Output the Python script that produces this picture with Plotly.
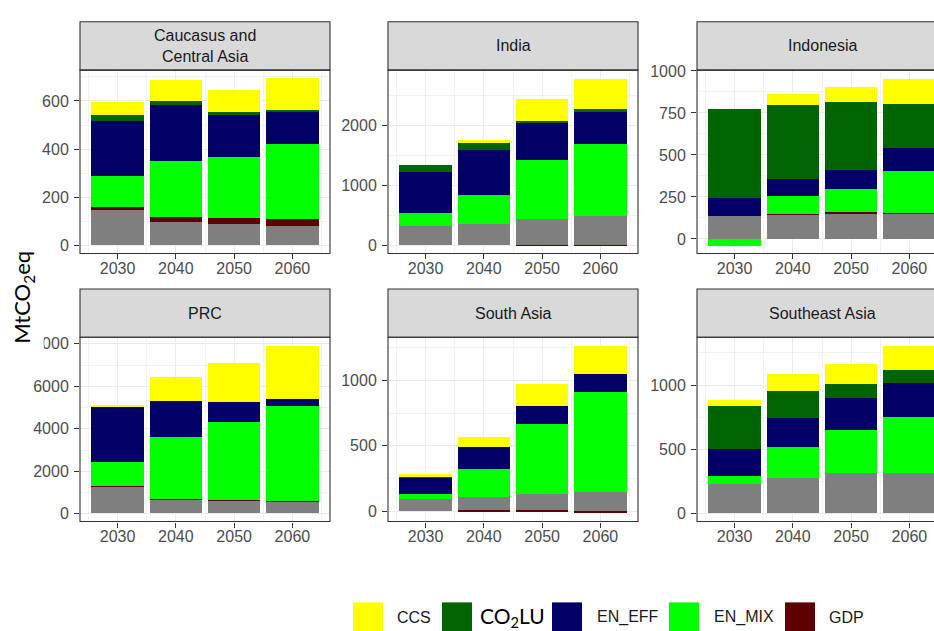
import plotly.graph_objects as go

# ---------------- data ----------------
years = [2030, 2040, 2050, 2060]
regions = ["Caucasus and<br>Central Asia", "India", "Indonesia",
           "PRC", "South Asia", "Southeast Asia"]

# values per region (rows) x year (cols), MtCO2eq
POP = [[146, 97, 89, 80],
       [324, 357, 445, 489],
       [139, 143, 150, 150],
       [1250, 670, 625, 580],
       [90, 105, 126, 148],
       [225, 274, 317, 317]]
GDP = [[14, 20, 24, 28],
       [0, 0, -8, -4],
       [0, 3, 8, 7],
       [25, 25, 25, 25],
       [0, -5, -7, -18],
       [0, 0, 0, 0]]
EN_MIX = [[126, 235, 255, 313],
          [220, 478, 973, 1198],
          [-41, 108, 141, 249],
          [1168, 2923, 3664, 4451],
          [38, 214, 540, 759],
          [64, 245, 335, 432]]
EN_EFF = [[232, 230, 175, 135],
          [676, 758, 637, 533],
          [107, 103, 113, 137],
          [2583, 1686, 928, 341],
          [126, 173, 135, 138],
          [210, 220, 248, 269]]
CO2LU = [[22, 19, 11, 7],
         [121, 110, 22, 55],
         [527, 440, 404, 260],
         [0, 0, 0, 0],
         [5, 0, 0, 0],
         [340, 215, 105, 97]]
CCS = [[55, 84, 91, 130],
       [0, 50, 363, 511],
       [0, 66, 86, 150],
       [46, 1113, 1840, 2489],
       [22, 73, 169, 214],
       [41, 128, 159, 184]]

series_names = ["POP", "GDP", "EN_MIX", "EN_EFF", "CO2LU", "CCS"]
series_values = [POP, GDP, EN_MIX, EN_EFF, CO2LU, CCS]
series_colors = ["#7F7F7F", "#5E0000", "#00FF00", "#000066", "#006400", "#FFFF00"]

legend_labels = ["CCS", "CO<sub>2</sub>LU", "EN_EFF", "EN_MIX", "GDP"]
legend_colors = ["#FFFF00", "#006400", "#000066", "#00FF00", "#5E0000"]

y_ranges = [[-33, 728], [-137, 2929], [-86, 1005], [-370, 8310], [-80, 1330], [-62, 1372]]
y_dticks = [200, 1000, 250, 2000, 500, 500]

# ---------------- layout geometry (pixels) ----------------
W, H = 934, 631
col_px = [(80, 330), (388, 638), (697, 947)]
row_plot_px = [(63, 249), (334, 521)]
row_strip_px = [(14, 63), (285, 334)]

def px_x(x):
    return x / W

def px_y(y):
    return 1 - y / H

FONT = "Liberation Sans, Arial, sans-serif"
fig = go.Figure()

layout = dict(
    width=W, height=H, margin=dict(l=0, r=0, t=0, b=0),
    paper_bgcolor="white", plot_bgcolor="white",
    barmode="relative", showlegend=False, bargap=0,
)

shapes = []
annotations = []
for i, reg in enumerate(regions):
    r, c = divmod(i, 3)
    ax = "" if i == 0 else str(i + 1)
    x0p, x1p = col_px[c]
    vis_x1 = min(x1p, W)
    px_per_year = (x1p - x0p) / (2066.45 - 2023.55)
    xr = [2023.55, 2023.55 + (vis_x1 - x0p) / px_per_year]
    yt, yb = row_plot_px[r]
    layout["xaxis" + ax] = dict(
        domain=[px_x(x0p), px_x(vis_x1)], anchor="y" + ax, range=xr,
        tickvals=years, ticktext=[str(y) for y in years],
        ticks="outside", ticklen=5, tickcolor="#333333", tickwidth=1,
        tickfont=dict(family=FONT, size=16, color="#4D4D4D"),
        ticklabelstandoff=-5,
        showgrid=True, gridcolor="#EBEBEB", gridwidth=1.1,
        minor=dict(tick0=2025, dtick=10, showgrid=True, gridcolor="#F2F2F2",
                   gridwidth=0.6, ticks=""),
        zeroline=False, showline=False, fixedrange=True,
    )
    layout["yaxis" + ax] = dict(
        domain=[px_y(yb), px_y(yt)], anchor="x" + ax, range=y_ranges[i],
        tick0=0, dtick=y_dticks[i],
        ticks="outside", ticklen=5, tickcolor="#333333", tickwidth=1,
        tickfont=dict(family=FONT, size=16, color="#4D4D4D"),
        ticklabelstandoff=2,
        showgrid=True, gridcolor="#EBEBEB", gridwidth=1.1,
        minor=dict(tick0=0, dtick=y_dticks[i] / 2, showgrid=True,
                   gridcolor="#F2F2F2", gridwidth=0.6, ticks=""),
        zeroline=False, showline=False, fixedrange=True,
    )
    for name, vals, col in zip(series_names, series_values, series_colors):
        fig.add_trace(go.Bar(
            x=years, y=vals[i], width=9, name=name,
            marker=dict(color=col, line=dict(width=0)),
            xaxis="x" + ax, yaxis="y" + ax, showlegend=False,
        ))
    # strip
    st, sb = row_strip_px[r]
    x1s = x1p if x1p <= W else W + 20
    shapes.append(dict(type="rect", xref="paper", yref="paper",
                       x0=px_x(x0p), x1=px_x(x1s), y0=px_y(sb), y1=px_y(st),
                       fillcolor="#D9D9D9", line=dict(color="#333333", width=1.1),
                       layer="above"))
    # panel border
    shapes.append(dict(type="rect", xref="paper", yref="paper",
                       x0=px_x(x0p), x1=px_x(x1s), y0=px_y(yb), y1=px_y(yt),
                       fillcolor="rgba(0,0,0,0)", line=dict(color="#333333", width=1.1),
                       layer="above"))
    annotations.append(dict(
        text=reg, xref="paper", yref="paper",
        x=px_x((x0p + x1p) / 2), y=px_y((st + sb) / 2),
        xanchor="center", yanchor="middle", showarrow=False,
        font=dict(family=FONT, size=16, color="#1A1A1A"),
    ))

# y-axis title
annotations.append(dict(
    text="MtCO<sub>2</sub>eq", xref="paper", yref="paper",
    x=px_x(23), y=px_y(294), xanchor="center", yanchor="middle",
    textangle=-90, showarrow=False, bgcolor="white", borderpad=5,
    font=dict(family="Lato, sans-serif", size=22, color="#000000"),
))

# legend (manual, large swatches)
sw_left = [353, 442, 552, 669, 785]
txt_left = [395, 480, 595, 712, 827]
for lab, colr, sl, tl in zip(legend_labels, legend_colors, sw_left, txt_left):
    shapes.append(dict(type="rect", xref="paper", yref="paper",
                       x0=px_x(sl), x1=px_x(sl + 30), y0=px_y(634), y1=px_y(603),
                       fillcolor=colr, line=dict(width=0)))
    big = "sub" in lab
    annotations.append(dict(
        text=lab, xref="paper", yref="paper",
        x=px_x(tl - (2 if big else 0)), y=px_y(618), xanchor="left", yanchor="middle",
        showarrow=False,
        font=dict(family="Lato, sans-serif" if big else FONT,
                  size=21 if big else 16, color="#000000" if big else "#1A1A1A"),
    ))

layout["shapes"] = shapes
layout["annotations"] = annotations
fig.update_layout(**layout)
fig.write_html(
    "out.html",
    config={"displayModeBar": False},
    post_script="document.body.style.margin='0';document.body.style.overflow='hidden';",
)
